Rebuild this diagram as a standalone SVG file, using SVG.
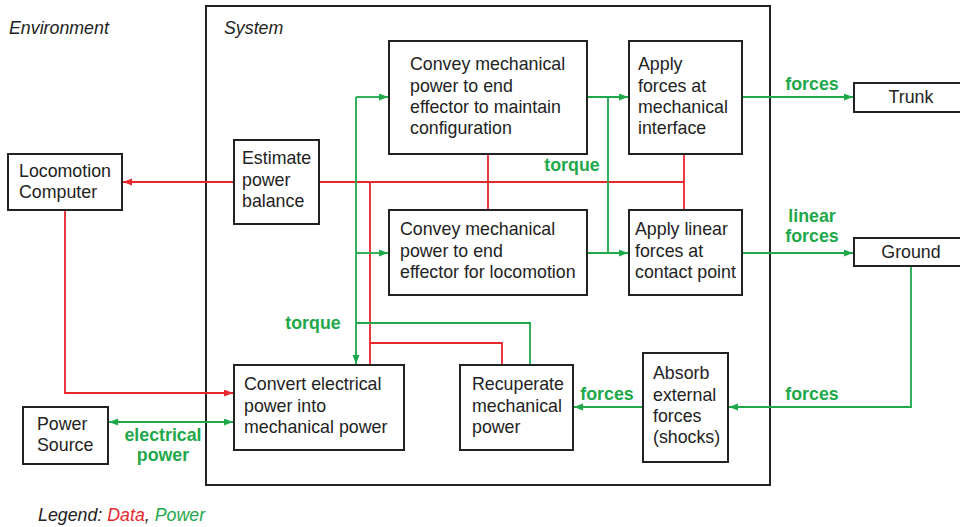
<svg xmlns="http://www.w3.org/2000/svg" width="960" height="527" viewBox="0 0 960 527">
<style>
text{font-family:"Liberation Sans",Arial,sans-serif;font-size:17.8px;fill:#222}
.box{fill:#fff;stroke:#222;stroke-width:2}
.it{font-style:italic}
.lbl{font-weight:bold;fill:#1ea84a;text-anchor:middle}
.ctr{text-anchor:middle}
.red{fill:none;stroke:#e8262e;stroke-width:1.8}
.grn{fill:none;stroke:#1ea84a;stroke-width:1.8}
</style>
<defs>
<marker id="ar" markerUnits="userSpaceOnUse" markerWidth="10" markerHeight="8" refX="9" refY="3.5" orient="auto"><path d="M0,0 L9,3.5 L0,7 z" fill="#e8262e"/></marker>
<marker id="ag" markerUnits="userSpaceOnUse" markerWidth="10" markerHeight="8" refX="9" refY="3.5" orient="auto-start-reverse"><path d="M0,0 L9,3.5 L0,7 z" fill="#1ea84a"/></marker>
</defs>
<rect width="960" height="527" fill="#fff"/>
<text class="it" x="9" y="34">Environment</text>
<g id="system"><rect class="box" x="206" y="6" width="564" height="479"/><text class="it" x="224" y="34">System</text></g>
<g id="connectors">
<path class="red" d="M234,182 H123" marker-end="url(#ar)"/>
<path class="red" d="M319,182 H684"/>
<path class="red" d="M488,154 V210"/>
<path class="red" d="M684,154 V210"/>
<path class="red" d="M370,182 V365"/>
<path class="red" d="M370,343 H502 V365"/>
<path class="red" d="M65,210 V393 H233" marker-end="url(#ar)"/>
<path class="grn" d="M356,97 V364" marker-end="url(#ag)"/>
<path class="grn" d="M356,97 H388" marker-end="url(#ag)"/>
<path class="grn" d="M356,253 H388" marker-end="url(#ag)"/>
<path class="grn" d="M530,365 V323 H356"/>
<path class="grn" d="M587,97 H628" marker-end="url(#ag)"/>
<path class="grn" d="M587,253 H628" marker-end="url(#ag)"/>
<path class="grn" d="M608,97 V253"/>
<path class="grn" d="M742,97 H853" marker-end="url(#ag)"/>
<path class="grn" d="M742,253 H853" marker-end="url(#ag)"/>
<path class="grn" d="M911,266 V407 H729" marker-end="url(#ag)"/>
<path class="grn" d="M643,407 H574" marker-end="url(#ag)"/>
<path class="grn" d="M109,422 H233" marker-start="url(#ag)" marker-end="url(#ag)"/>
<text class="lbl" x="572" y="171">torque</text>
<text class="lbl" x="313" y="329">torque</text>
<text class="lbl" x="812" y="90">forces</text>
<text class="lbl" x="812" y="222">linear</text>
<text class="lbl" x="812" y="242">forces</text>
<text class="lbl" x="812" y="400">forces</text>
<text class="lbl" x="607" y="400">forces</text>
<text class="lbl" x="163" y="441">electrical</text>
<text class="lbl" x="163" y="461">power</text>
</g>
<g id="locomotion-computer"><rect class="box" x="8" y="154" width="114" height="56"/><text x="19" y="177">Locomotion</text><text x="19" y="198">Computer</text></g>
<g id="estimate"><rect class="box" x="234" y="140" width="85" height="84"/><text x="242" y="164">Estimate</text><text x="242" y="186">power</text><text x="242" y="207">balance</text></g>
<g id="convey-config"><rect class="box" x="389" y="41" width="198" height="113"/><text x="410" y="70">Convey mechanical</text><text x="410" y="92">power to end</text><text x="410" y="113">effector to maintain</text><text x="410" y="134">configuration</text></g>
<g id="convey-loco"><rect class="box" x="389" y="210" width="198" height="85"/><text x="400" y="235">Convey mechanical</text><text x="400" y="257">power to end</text><text x="400" y="278">effector for locomotion</text></g>
<g id="apply-mech"><rect class="box" x="629" y="41" width="113" height="113"/><text x="638" y="70">Apply</text><text x="638" y="92">forces at</text><text x="638" y="113">mechanical</text><text x="638" y="134">interface</text></g>
<g id="apply-linear"><rect class="box" x="629" y="210" width="113" height="85"/><text x="635" y="235">Apply linear</text><text x="635" y="257">forces at</text><text x="635" y="278">contact point</text></g>
<g id="trunk"><rect class="box" x="854" y="83" width="114" height="29"/><text class="ctr" x="911" y="103">Trunk</text></g>
<g id="ground"><rect class="box" x="854" y="238" width="114" height="28"/><text class="ctr" x="911" y="258">Ground</text></g>
<g id="convert"><rect class="box" x="234" y="365" width="170" height="85"/><text x="244" y="390">Convert electrical</text><text x="244" y="412">power into</text><text x="244" y="433">mechanical power</text></g>
<g id="recuperate"><rect class="box" x="460" y="365" width="113" height="85"/><text x="472" y="390">Recuperate</text><text x="472" y="412">mechanical</text><text x="472" y="433">power</text></g>
<g id="absorb"><rect class="box" x="643" y="353" width="85" height="109"/><text x="653" y="379">Absorb</text><text x="653" y="401">external</text><text x="653" y="422">forces</text><text x="653" y="443">(shocks)</text></g>
<g id="power-source"><rect class="box" x="23" y="407" width="85" height="57"/><text x="37" y="430">Power</text><text x="37" y="451">Source</text></g>
<text class="it" x="38" y="521">Legend: <tspan fill="#e8262e">Data</tspan>, <tspan fill="#1ea84a">Power</tspan></text>
</svg>
